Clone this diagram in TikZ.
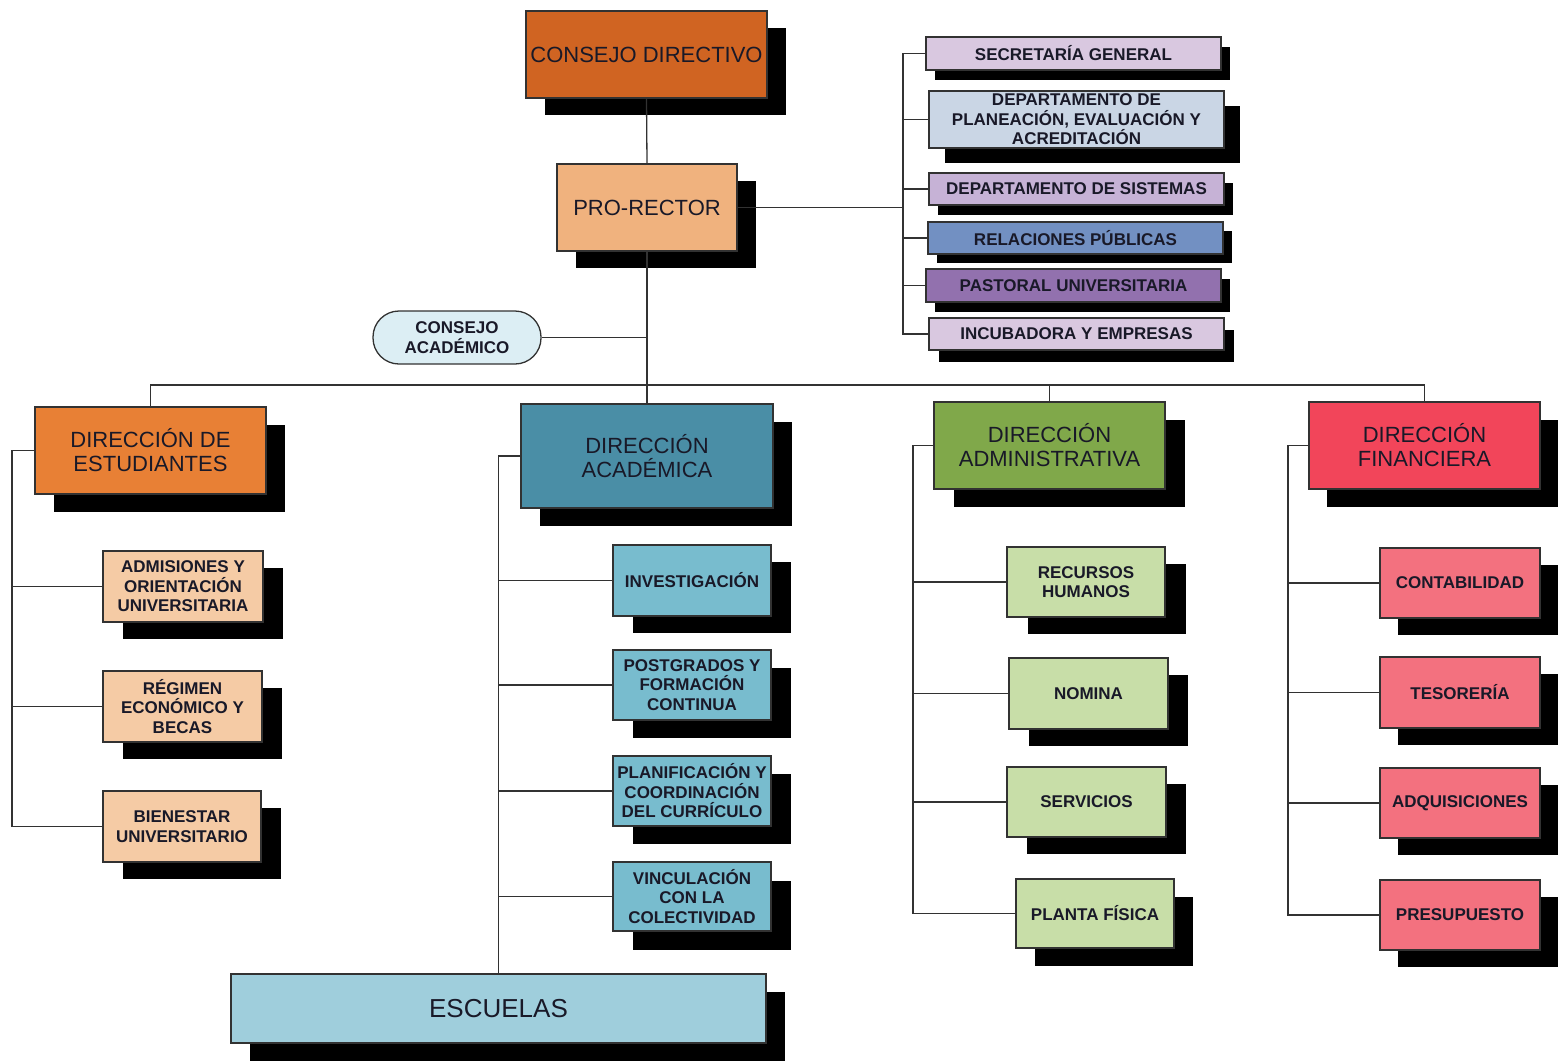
\documentclass[tikz,border=0pt]{standalone}
\usepackage{fontspec}
\setmainfont{Liberation Sans}
\usetikzlibrary{shadows}
\definecolor{txt}{RGB}{25,25,40}
\definecolor{edge}{RGB}{50,50,50}
\definecolor{cdcol}{RGB}{208,100,34}
\definecolor{prcol}{RGB}{240,178,126}
\definecolor{cacol}{RGB}{220,238,244}
\definecolor{sgcol}{RGB}{217,200,224}
\definecolor{dpcol}{RGB}{202,214,229}
\definecolor{dscol}{RGB}{198,178,214}
\definecolor{rpcol}{RGB}{114,144,194}
\definecolor{pucol}{RGB}{146,113,174}
\definecolor{decol}{RGB}{232,128,53}
\definecolor{dechild}{RGB}{245,203,165}
\definecolor{dacol}{RGB}{74,142,166}
\definecolor{dachild}{RGB}{120,188,206}
\definecolor{esccol}{RGB}{159,206,220}
\definecolor{admcol}{RGB}{128,168,74}
\definecolor{admchild}{RGB}{200,222,168}
\definecolor{fincol}{RGB}{242,69,90}
\definecolor{finchild}{RGB}{243,113,127}
\tikzset{
  box/.style={draw=edge, line width=1.3pt, inner sep=0pt, align=center, text=txt},
  bigbox/.style={box, font=\fontsize{22}{24}\selectfont},
  smallbox/.style={box, font=\bfseries\fontsize{17}{19.5}\selectfont},
  sh/.style 2 args={drop shadow={shadow xshift=#1pt, shadow yshift=-#2pt, opacity=1, fill=black}},
  dim/.style 2 args={minimum width=#1pt, minimum height=#2pt},
  conn/.style={draw=edge, line width=1.3pt}
}
\begin{document}
\begin{tikzpicture}[x=1pt,y=-1pt]
\useasboundingbox (0,0) rectangle (1558,1061);
% top
\node[bigbox, fill=cdcol, dim={241}{87}, sh={19}{17}] (cd) at (646.5,54.5) {CONSEJO DIRECTIVO};
\node[bigbox, fill=prcol, dim={180}{87}, sh={19}{17}] (pr) at (647,207.5) {PRO-RECTOR};
\node[smallbox, fill=cacol, dim={168}{53}, rounded corners=26pt] (ca) at (457,337.5) {CONSEJO\\ACADÉMICO};
% right staff column
\node[smallbox, fill=sgcol, dim={295}{33}, sh={9}{10}] (sg) at (1073.5,53.5) {SECRETARÍA GENERAL};
\node[smallbox, fill=dpcol, dim={295}{57}, sh={16}{15}] (dp) at (1076.5,119.5) {DEPARTAMENTO DE\\PLANEACIÓN, EVALUACIÓN Y\\ACREDITACIÓN};
\node[smallbox, fill=dscol, dim={295}{32}, sh={9}{10}] (ds) at (1076.5,189) {DEPARTAMENTO DE SISTEMAS};
\node[smallbox, fill=rpcol, dim={295}{32}, sh={9}{9}] (rp) at (1075.5,238) {RELACIONES PÚBLICAS};
\node[smallbox, fill=pucol, dim={295}{33}, sh={9}{10}] (pu) at (1073.5,285.5) {PASTORAL UNIVERSITARIA};
\node[smallbox, fill=sgcol, dim={295}{32}, sh={10}{12}] (ie) at (1076.5,334) {INCUBADORA Y EMPRESAS};
% directions
\node[bigbox, fill=decol, dim={231}{87}, sh={19}{18}] (de) at (150.5,450.5) {DIRECCIÓN DE\\ESTUDIANTES};
\node[bigbox, fill=dacol, dim={252}{104}, sh={19}{18}] (da) at (647,456) {DIRECCIÓN\\ACADÉMICA};
\node[bigbox, fill=admcol, dim={231}{87}, sh={20}{18}] (dad) at (1049.5,445.5) {DIRECCIÓN\\ADMINISTRATIVA};
\node[bigbox, fill=fincol, dim={231}{87}, sh={18}{18}] (df) at (1424.5,445.5) {DIRECCIÓN\\FINANCIERA};
% estudiantes children
\node[smallbox, fill=dechild, dim={160}{71}, sh={20}{17}] (ad) at (183,586.5) {ADMISIONES Y\\ORIENTACIÓN\\UNIVERSITARIA};
\node[smallbox, fill=dechild, dim={159}{71}, sh={20}{17}] (re) at (182.5,706.5) {RÉGIMEN\\ECONÓMICO Y\\BECAS};
\node[smallbox, fill=dechild, dim={158}{71}, sh={20}{17}] (bu) at (182,826.5) {BIENESTAR\\UNIVERSITARIO};
% academica children
\node[smallbox, fill=dachild, dim={158}{71}, sh={20}{17}] (inv) at (692,580.5) {INVESTIGACIÓN};
\node[smallbox, fill=dachild, dim={158}{70}, sh={20}{18}] (pos) at (692,685) {POSTGRADOS Y\\FORMACIÓN\\CONTINUA};
\node[smallbox, fill=dachild, dim={158}{70}, sh={20}{18}] (pla) at (692,791) {PLANIFICACIÓN Y\\COORDINACIÓN\\DEL CURRÍCULO};
\node[smallbox, fill=dachild, dim={158}{69}, sh={20}{19}] (vin) at (692,896.5) {VINCULACIÓN\\CON LA\\COLECTIVIDAD};
\node[box, font=\fontsize{26}{28}\selectfont, fill=esccol, dim={535}{69}, sh={19}{18}] (esc) at (498.5,1008.5) {ESCUELAS};
% administrativa children
\node[smallbox, fill=admchild, dim={158}{70}, sh={21}{17}] (rh) at (1086,582) {RECURSOS\\HUMANOS};
\node[smallbox, fill=admchild, dim={159}{71}, sh={20}{17}] (no) at (1088.5,693.5) {NOMINA};
\node[smallbox, fill=admchild, dim={159}{70}, sh={20}{17}] (se) at (1086.5,802) {SERVICIOS};
\node[smallbox, fill=admchild, dim={158}{69}, sh={19}{18}] (pf) at (1095,913.5) {PLANTA FÍSICA};
% financiera children
\node[smallbox, fill=finchild, dim={160}{70}, sh={18}{17}] (co) at (1460,583) {CONTABILIDAD};
\node[smallbox, fill=finchild, dim={160}{71}, sh={18}{17}] (te) at (1460,692.5) {TESORERÍA};
\node[smallbox, fill=finchild, dim={160}{70}, sh={18}{17}] (aq) at (1460,803) {ADQUISICIONES};
\node[smallbox, fill=finchild, dim={160}{70}, sh={18}{17}] (pp) at (1460,915) {PRESUPUESTO};
% helper coordinates
\coordinate (bus) at (0,385);
\coordinate (rv) at (903,0);
\coordinate (lv) at (12,0);
\coordinate (av) at (913,0);
\coordinate (fv) at (1288,0);
% connectors
\path[conn] (cd.south) -- (pr.north);
\path[conn] (pr.south) -- (da.north);
\path[conn] (ca.east) -- (ca.east -| pr.south);
\path[conn] (de.north) -- (de.north |- bus) -| (df.north);
\path[conn] (dad.north) -- (dad.north |- bus);
% staff
\path[conn] (pr.east) -- (pr.east -| rv);
\path[conn] (sg.west) -- (sg.west -| rv) -- (ie.west -| rv) -- (ie.west);
\foreach \n in {dp,ds,rp,pu} \path[conn] (\n.west) -- (\n.west -| rv);
% estudiantes
\path[conn] (de.west) -- (de.west -| lv) -- (bu.west -| lv) -- (bu.west);
\foreach \n in {ad,re} \path[conn] (\n.west) -- (\n.west -| lv);
% academica
\path[conn] (da.west) -| (esc.north);
\foreach \n in {inv,pos,pla,vin} \path[conn] (\n.west) -- (\n.west -| esc.north);
% administrativa
\path[conn] (dad.west) -- (dad.west -| av) -- (pf.west -| av) -- (pf.west);
\foreach \n in {rh,no,se} \path[conn] (\n.west) -- (\n.west -| av);
% financiera
\path[conn] (df.west) -- (df.west -| fv) -- (pp.west -| fv) -- (pp.west);
\foreach \n in {co,te,aq} \path[conn] (\n.west) -- (\n.west -| fv);
\end{tikzpicture}
\end{document}
